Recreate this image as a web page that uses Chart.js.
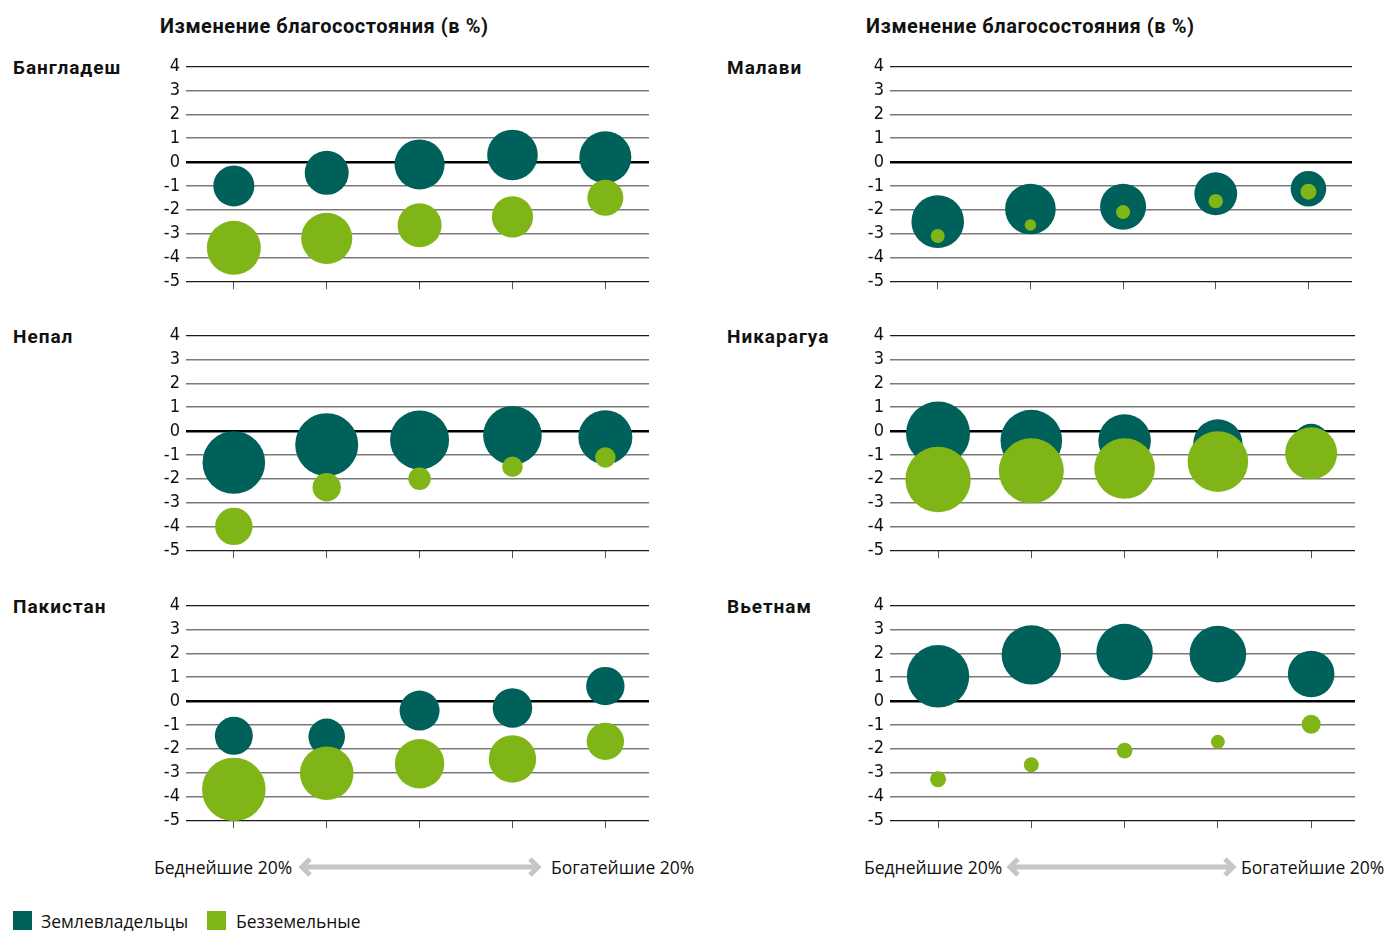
<!DOCTYPE html>
<html lang="ru">
<head>
<meta charset="utf-8">
<script src="https://cdn.jsdelivr.net/npm/chart.js@4"></script>
<style>
  html, body { margin:0; padding:0; background:#fff; }
  body { width:1389px; height:931px; position:relative; overflow:hidden; font-family:"Open Sans", sans-serif; color:#111; }
  .title { position:absolute; font-family:Roboto, sans-serif; font-weight:700; font-size:20px; letter-spacing:0.55px; white-space:nowrap; }
  .country { position:absolute; font-family:Roboto, sans-serif; font-weight:700; font-size:19px; letter-spacing:1px; white-space:nowrap; }
  .panel { position:absolute; }
  .foot { position:absolute; font-size:17.5px; white-space:nowrap; }
  .sw { position:absolute; width:19px; height:19px; }
  svg { position:absolute; }
</style>
</head>
<body>
<script>
// ---------- DATA ----------
const quintiles = [1, 2, 3, 4, 5];               // Беднейшие 20% ... Богатейшие 20%
const yTicks = [4, 3, 2, 1, 0, -1, -2, -3, -4, -5];
const seriesNames = ['Землевладельцы', 'Безземельные'];
const panelTitle = 'Изменение благосостояния (в %)';
const poorLabel = 'Беднейшие 20%';
const richLabel = 'Богатейшие 20%';
const countries = ['Бангладеш', 'Малави', 'Непал', 'Никарагуа', 'Пакистан', 'Вьетнам'];

// change in welfare (%) and relative bubble size, per quintile
const bangladeshLanded     = [-1.0, -0.45, -0.1, 0.3, 0.2];
const bangladeshLandedSize = [20.5, 22, 25, 25.3, 26];
const bangladeshLandless     = [-3.6, -3.2, -2.65, -2.3, -1.5];
const bangladeshLandlessSize = [27, 25.6, 22, 20.6, 18];

const malawiLanded     = [-2.5, -1.97, -1.87, -1.33, -1.12];
const malawiLandedSize = [26.3, 25.3, 23, 21.4, 17.8];
const malawiLandless     = [-3.1, -2.64, -2.1, -1.64, -1.24];
const malawiLandlessSize = [7, 5.8, 7, 7.2, 8];

const nepalLanded     = [-1.32, -0.57, -0.37, -0.18, -0.26];
const nepalLandedSize = [31.3, 31.5, 29.5, 29.3, 27];
const nepalLandless     = [-4.0, -2.36, -2.0, -1.5, -1.11];
const nepalLandlessSize = [18.7, 14.2, 11.2, 10.3, 10.2];

const nicaraguaLanded     = [-0.1, -0.4, -0.4, -0.54, -0.45];
const nicaraguaLandedSize = [32, 30.8, 26.3, 24.7, 18];
const nicaraguaLandless     = [-2.03, -1.67, -1.57, -1.28, -0.93];
const nicaraguaLandlessSize = [32.7, 32.5, 30.3, 30.3, 26];

const pakistanLanded     = [-1.46, -1.5, -0.4, -0.29, 0.63];
const pakistanLandedSize = [19, 18.3, 20, 19.8, 19.2];
const pakistanLandless     = [-3.71, -3.03, -2.63, -2.43, -1.69];
const pakistanLandlessSize = [31.8, 26.8, 24.7, 23.7, 18.7];

const vietnamLanded     = [1.04, 1.94, 2.06, 1.97, 1.14];
const vietnamLandedSize = [31.2, 29.7, 28.2, 28.3, 23.3];
const vietnamLandless     = [-3.28, -2.67, -2.08, -1.71, -0.97];
const vietnamLandlessSize = [8, 7.5, 7.8, 7, 9.5];

// ---------- STYLE / LAYOUT ----------
const colLanded = '#00605a';
const colLandless = '#7fb516';

const panels = [
  { name: countries[0], landed: bangladeshLanded, landedSize: bangladeshLandedSize, landless: bangladeshLandless, landlessSize: bangladeshLandlessSize, left: 150, top: 66, right: 649, labelX: 13 },
  { name: countries[1], landed: malawiLanded, landedSize: malawiLandedSize, landless: malawiLandless, landlessSize: malawiLandlessSize, left: 854, top: 66, right: 1352, labelX: 727 },
  { name: countries[2], landed: nepalLanded, landedSize: nepalLandedSize, landless: nepalLandless, landlessSize: nepalLandlessSize, left: 150, top: 335, right: 649, labelX: 13 },
  { name: countries[3], landed: nicaraguaLanded, landedSize: nicaraguaLandedSize, landless: nicaraguaLandless, landlessSize: nicaraguaLandlessSize, left: 854, top: 335, right: 1355, labelX: 727 },
  { name: countries[4], landed: pakistanLanded, landedSize: pakistanLandedSize, landless: pakistanLandless, landlessSize: pakistanLandlessSize, left: 150, top: 605, right: 649, labelX: 13 },
  { name: countries[5], landed: vietnamLanded, landedSize: vietnamLandedSize, landless: vietnamLandless, landlessSize: vietnamLandlessSize, left: 854, top: 605, right: 1355, labelX: 727 }
];

function el(cls, text, css) {
  const d = document.createElement('div');
  d.className = cls;
  if (text) d.textContent = text;
  Object.assign(d.style, css);
  document.body.appendChild(d);
  return d;
}

el('title', panelTitle, { left: '160px', top: '14px' });
el('title', panelTitle, { left: '866px', top: '14px' });

// measured insets of chart area inside the canvas (label overflow of y-axis)
const INSET_TOP = 16, INSET_BOTTOM = 17, PLOT_H = 215, X_H = 11, Y_W = 36;

panels.forEach(p => {
  el('country', p.name, { left: p.labelX + 'px', top: (p.top - 10) + 'px' });
  const w = p.right - p.left;
  const h = INSET_TOP + PLOT_H + INSET_BOTTOM;
  const wrap = el('panel', null, { left: p.left + 'px', top: (p.top - INSET_TOP) + 'px', width: w + 'px', height: h + 'px' });
  const cv = document.createElement('canvas');
  cv.width = w; cv.height = h;
  cv.style.width = w + 'px'; cv.style.height = h + 'px';
  wrap.appendChild(cv);

  const toPts = (vals, sizes) => quintiles.map((q, i) => ({ x: q, y: vals[i], r: sizes[i] }));

  new Chart(cv, {
    type: 'bubble',
    data: {
      datasets: [
        { label: seriesNames[1], data: toPts(p.landless, p.landlessSize), backgroundColor: colLandless, borderWidth: 0, order: 0, clip: false },
        { label: seriesNames[0], data: toPts(p.landed, p.landedSize), backgroundColor: colLanded, borderWidth: 0, order: 1, clip: false }
      ]
    },
    options: {
      responsive: false,
      devicePixelRatio: 1,
      animation: false,
      events: [],
      layout: { autoPadding: false, padding: { top: 10, left: 0, right: 0, bottom: 0 } },
      plugins: { legend: { display: false }, tooltip: { enabled: false } },
      scales: {
        x: {
          type: 'linear',
          min: 0.485, max: 5.47,
          afterBuildTicks: s => { s.ticks = quintiles.map(v => ({ value: v })); },
          afterFit: s => { s.height = X_H; },
          ticks: { display: false, autoSkip: false },
          grid: { drawOnChartArea: false, drawTicks: true, tickLength: 8, color: '#555', lineWidth: 1 },
          border: { display: false }
        },
        y: {
          min: -5, max: 4,
          afterBuildTicks: s => { s.ticks = yTicks.map(v => ({ value: v })); },
          afterFit: s => { s.width = Y_W; },
          ticks: {
            autoSkip: false,
            padding: 6,
            color: '#111',
            font: { family: "'Liberation Sans Narrow', 'DejaVu Sans Condensed', sans-serif", size: 18 },
            callback: v => String(v)
          },
          grid: {
            drawTicks: false,
            color: c => (c.tick.value === 0 ? '#000' : (c.tick.value === 4 || c.tick.value === -5) ? '#1a1a1a' : '#7a7a7a'),
            lineWidth: c => (c.tick.value === 0 ? 2.4 : (c.tick.value === 4 || c.tick.value === -5) ? 1.2 : 1.6)
          },
          border: { display: false }
        }
      }
    }
  });
});

// bottom axis captions with grey double arrows
function arrow(x1, x2, y) {
  const ns = 'http://www.w3.org/2000/svg';
  const s = document.createElementNS(ns, 'svg');
  s.setAttribute('width', x2 - x1 + 4);
  s.setAttribute('height', 24);
  s.style.left = (x1 - 2) + 'px';
  s.style.top = (y - 12) + 'px';
  const L = x2 - x1;
  const path = document.createElementNS(ns, 'path');
  path.setAttribute('d', `M ${2 + 10} 4 L 4 12 L ${2 + 10} 20 M 4 12 L ${L} 12 M ${L - 8} 4 L ${L} 12 L ${L - 8} 20`);
  path.setAttribute('stroke', '#c6c6c6');
  path.setAttribute('stroke-width', '5');
  path.setAttribute('fill', 'none');
  s.appendChild(path);
  document.body.appendChild(s);
}
el('foot', poorLabel, { left: '154px', top: '855px' });
arrow(300, 540, 867);
el('foot', richLabel, { left: '551px', top: '855px' });
el('foot', poorLabel, { left: '864px', top: '855px' });
arrow(1008, 1235, 867);
el('foot', richLabel, { left: '1241px', top: '855px' });

// legend
el('sw', null, { left: '13px', top: '911px', background: colLanded });
el('foot', seriesNames[0], { left: '41px', top: '909px' });
el('sw', null, { left: '207px', top: '911px', background: colLandless });
el('foot', seriesNames[1], { left: '236px', top: '909px' });
</script>
</body>
</html>
